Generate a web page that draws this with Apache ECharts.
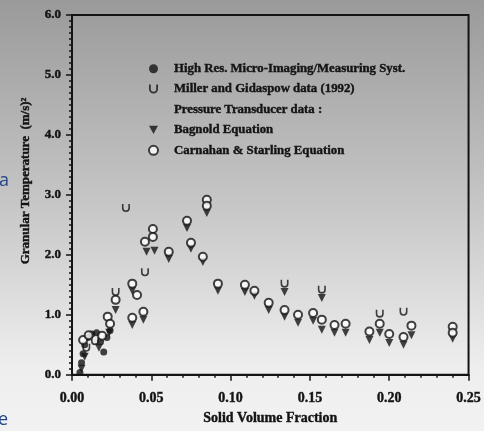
<!DOCTYPE html>
<html>
<head>
<meta charset="utf-8">
<script src="https://cdn.jsdelivr.net/npm/echarts@6/dist/echarts.min.js"></script>
<style>
html,body{margin:0;padding:0;}
body{width:484px;height:431px;background:linear-gradient(to bottom,#9a9a9a 0%,#c4c4c4 45%,#eeeeee 85%,#f2f2f2 100%);overflow:hidden;}
#c{width:484px;height:431px;}
</style>
</head>
<body>
<div id="c"></div>
<script>
// Data: [solid volume fraction, granular temperature]
const highRes = [
  [0.005,0.04],[0.006,0.20],[0.007,0.35],[0.008,0.50],[0.010,0.62],
  [0.0125,0.68],[0.0155,0.70],[0.018,0.55],[0.020,0.38],[0.022,0.62],[0.024,0.74]
];
const millerGidaspow = [
  [0.034,2.78],[0.0275,1.38],[0.046,1.71],[0.009,0.45],[0.0145,0.56],
  [0.134,1.52],[0.1575,1.42],[0.194,1.02],[0.209,1.05]
];
const bagnold = [
  [0.006,0.10],[0.008,0.30],[0.017,0.45],[0.0235,0.70],[0.0275,1.08],[0.038,1.40],
  [0.038,0.83],[0.045,0.92],[0.047,2.05],[0.052,2.07],[0.061,1.93],[0.0725,2.45],
  [0.075,2.10],[0.0825,1.88],[0.085,2.70],[0.092,1.40],[0.109,1.38],[0.115,1.32],
  [0.124,1.08],[0.134,1.38],[0.134,0.97],[0.1425,0.87],[0.152,0.90],[0.1575,1.28],
  [0.1575,0.75],[0.1655,0.70],[0.1725,0.70],[0.1875,0.58],[0.194,0.70],[0.200,0.53],
  [0.209,0.50],[0.214,0.66],[0.240,0.60]
];
const carnahanStarling = [
  [0.007,0.58],[0.0105,0.66],[0.019,0.65],[0.0225,0.97],[0.024,0.85],[0.0275,1.25],
  [0.038,1.52],[0.041,1.33],[0.038,0.95],[0.045,1.05],[0.046,2.22],[0.051,2.43],
  [0.051,2.30],[0.061,2.05],[0.0725,2.57],[0.075,2.20],[0.0825,1.97],[0.085,2.92],
  [0.085,2.82],[0.092,1.52],[0.109,1.50],[0.115,1.40],[0.124,1.20],[0.134,1.08],
  [0.1425,1.00],[0.152,1.03],[0.1575,0.92],[0.1655,0.83],[0.1725,0.85],[0.1875,0.72],
  [0.194,0.85],[0.200,0.68],[0.209,0.63],[0.214,0.82],[0.240,0.80],[0.240,0.70]
];
const xTicks = {min:0, max:0.25, interval:0.05};
const yTicks = {min:0, max:6, interval:1};
const legendNames = [
  'High Res. Micro-Imaging/Measuring Syst.',
  'Miller and Gidaspow data (1992)',
  'Pressure Transducer data :',
  'Bagnold Equation',
  'Carnahan & Starling Equation'
];

const ink = '#141414';
const font = '"Liberation Serif", "DejaVu Serif", serif';
const heavy = {fontFamily:font, fontWeight:'bold', color:ink, textBorderColor:ink, textBorderWidth:0.4};
const chart = echarts.init(document.getElementById('c'), null, {renderer:'canvas'});
chart.setOption({
  backgroundColor: 'transparent',
  animation: false,
  textStyle: {fontFamily: font, color: ink},
  grid: {left:72, right:11, top:15, bottom:52, show:true, borderColor:ink, borderWidth:2, backgroundColor:'transparent'},
  legend: {
    orient:'vertical', left:143, top:57, itemGap:7, itemWidth:9, itemHeight:9,
    selectedMode:false,
    textStyle:Object.assign({fontSize:12.8, padding:[0,0,0,11]}, heavy),
    data: [
      {name:legendNames[0]},
      {name:legendNames[1]},
      {name:legendNames[2], itemStyle:{opacity:0}},
      {name:legendNames[3]},
      {name:legendNames[4]}
    ]
  },
  xAxis: {
    type:'value', min:xTicks.min, max:xTicks.max, interval:xTicks.interval,
    name:'Solid Volume Fraction', nameLocation:'middle', nameGap:37,
    nameTextStyle:Object.assign({fontSize:14}, heavy),
    axisLine:{show:true, lineStyle:{color:ink, width:2}},
    axisTick:{show:true, length:6, lineStyle:{color:ink, width:1.5}},
    minorTick:{show:true, splitNumber:5, length:3, lineStyle:{color:ink, width:1.5}},
    splitLine:{show:false},
    axisLabel:Object.assign({margin:17, fontSize:14, formatter:v=>v.toFixed(2)}, heavy)
  },
  yAxis: {
    type:'value', min:yTicks.min, max:yTicks.max, interval:yTicks.interval,
    name:'Granular Temperature  (m/s)\u00B2', nameLocation:'middle', nameGap:40,
    nameTextStyle:Object.assign({fontSize:13, padding:[0,0,0,28]}, heavy),
    axisLine:{show:true, lineStyle:{color:ink, width:2}},
    axisTick:{show:true, length:6, lineStyle:{color:ink, width:1.5}},
    minorTick:{show:true, splitNumber:10, length:3, lineStyle:{color:ink, width:1.5}},
    splitLine:{show:false},
    axisLabel:Object.assign({margin:11, fontSize:13, formatter:v=>v.toFixed(1)}, heavy)
  },
  graphic: [
    {type:'text', left:-1, top:172, style:{text:'a', fill:'#23448a', font:'18px "Open Sans", sans-serif'}},
    {type:'text', left:-2, top:411, style:{text:'e', fill:'#23448a', font:'18px "Open Sans", sans-serif'}}
  ],
  series: [
    {name:legendNames[0], type:'scatter', data:highRes, symbol:'circle', symbolSize:7,
     itemStyle:{color:ink}},
    {name:legendNames[1], type:'scatter', data:millerGidaspow,
     symbol:'path://M0,0 L2,0 L2,5 A3,3 0 0 0 8,5 L8,0 L10,0 L10,5 A5,5 0 0 1 0,5 Z', symbolSize:8,
     itemStyle:{color:ink}},
    {name:legendNames[2], type:'scatter', data:[], itemStyle:{color:'rgba(0,0,0,0)'}},
    {name:legendNames[3], type:'scatter', data:bagnold, symbol:'path://M0,0 L10,0 L5,9 Z', symbolSize:8,
     itemStyle:{color:ink}},
    {name:legendNames[4], type:'scatter', data:carnahanStarling, symbol:'emptyCircle', symbolSize:8,
     itemStyle:{color:ink, borderColor:ink, borderWidth:2.5}}
  ]
});
</script>
</body>
</html>
